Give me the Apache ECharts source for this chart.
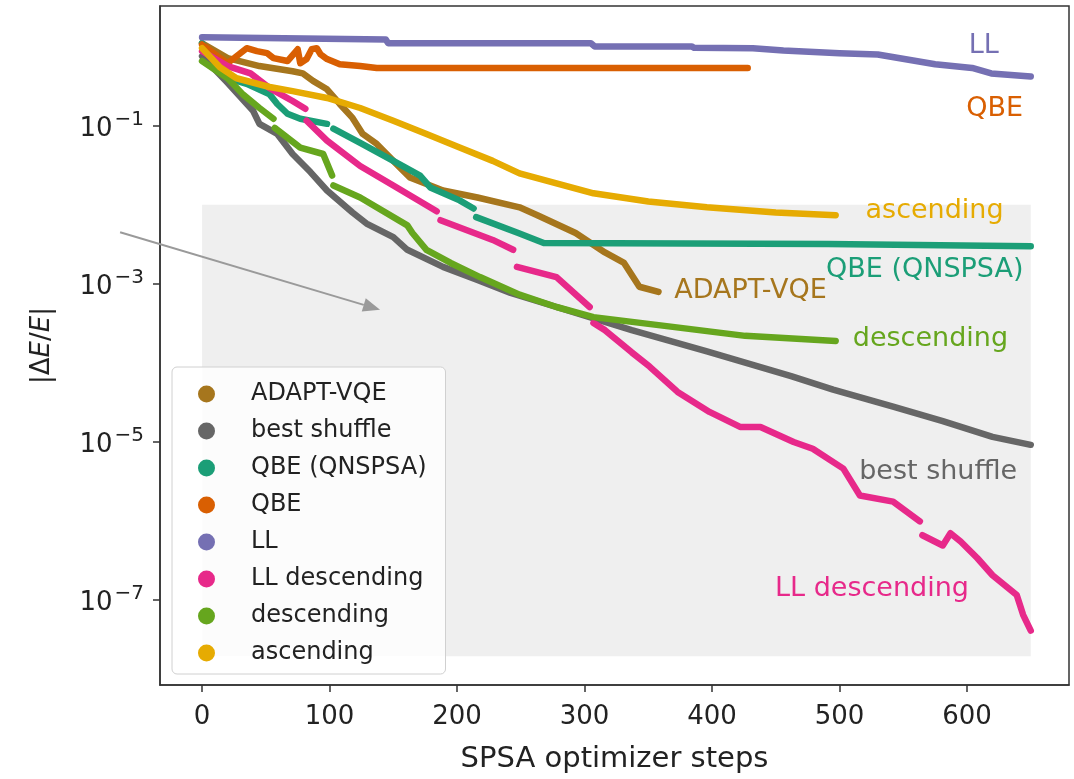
<!DOCTYPE html>
<html>
<head>
<meta charset="utf-8">
<script src="https://cdn.jsdelivr.net/npm/echarts@6/dist/echarts.min.js"></script>
<style>
html,body{margin:0;padding:0;background:#fff;}
#chart{width:1074px;height:779px;}
</style>
</head>
<body>
<div id="chart"></div>
<script>
// ---- data (|dE/E|; null = gap in the dotted trace) ----
const seriesNames = ['ADAPT-VQE','best shuffle','QBE (QNSPSA)','QBE','LL','LL descending','descending','ascending'];

const adaptSteps = [0,20,45,71,79,87,98,108,118,126,137,150,163,189,216,249,263,293,316,331,343,358];
const adaptVals  = [1.11,0.72,0.57,0.49,0.46,0.37,0.29,0.189,0.126,0.079,0.059,0.036,0.0222,0.0152,0.0124,0.0093,0.0074,0.0044,0.0025,0.00184,0.00092,0.00079];

const shuffleSteps = [0,20,40,45,59,71,85,98,118,129,150,161,189,216,242,278,337,396,462,495,542,581,620,650];
const shuffleVals  = [0.76,0.35,0.155,0.106,0.079,0.044,0.026,0.0152,0.0080,0.0058,0.0039,0.0027,0.00164,0.00112,0.00077,5.1e-4,2.6e-4,1.4e-4,6.8e-5,4.6e-5,2.8e-5,1.84e-5,1.16e-5,9.2e-6];

const qnspsaSteps = [0,20,35,53,59,67,77,98,100,103,124,150,171,179,202,213,214,215,248,268,491,650];
const qnspsaVals  = [1.11,0.40,0.34,0.25,0.189,0.142,0.123,0.106,null,0.092,0.061,0.036,0.0235,0.0166,0.0114,0.0090,null,0.0070,0.0044,0.0033,0.0032,0.0030];

const qbeSteps = [0,12,20,27,35,43,51,56,67,75,77,82,86,90,93,98,108,124,137,428];
const qbeVals  = [1.07,0.76,0.62,0.76,0.96,0.88,0.83,0.72,0.66,0.93,0.62,0.70,0.93,0.96,0.80,0.70,0.60,0.57,0.54,0.54];

const llSteps = [0,144,146,305,308,384,386,432,456,500,530,560,575,604,619,650];
const llVals  = [1.32,1.24,1.11,1.11,1.01,1.01,0.97,0.96,0.90,0.83,0.80,0.66,0.60,0.54,0.46,0.42];

const llDescSteps = [0,20,38,53,71,81,81.5,82,98,124,150,184,185.5,187,228,244,245.5,247,278,304,305.5,307,316,337,351,373,398,422,438,464,479,503,516,542,563,564,565,581,587,595,608,620,639,644,650];
const llDescVals  = [0.88,0.57,0.46,0.30,0.206,0.164,null,0.116,0.065,0.031,0.0176,0.0083,null,0.0064,0.0036,0.0027,null,0.00164,0.00122,5.1e-4,null,3.2e-4,2.6e-4,1.36e-4,9.0e-5,4.3e-5,2.4e-5,1.55e-5,1.55e-5,1.0e-5,8.2e-6,4.6e-6,2.1e-6,1.76e-6,9.9e-7,null,6.6e-7,4.9e-7,7.0e-7,5.5e-7,3.4e-7,2.06e-7,1.16e-7,6.5e-8,4.1e-8];

const descSteps = [0,20,32,45,56,56.5,57,77,95,102,102.5,103,124,161,165,176,195,218,249,278,307,366,426,497];
const descVals  = [0.66,0.40,0.25,0.168,0.123,null,0.094,0.053,0.044,0.0235,null,0.0176,0.0124,0.0055,0.0044,0.0027,0.00184,0.00122,0.00073,5.1e-4,3.8e-4,2.9e-4,2.2e-4,1.9e-4];

const ascSteps = [0,14,27,53,71,98,124,150,176,202,228,249,307,350,396,450,497];
const ascVals  = [0.96,0.55,0.40,0.31,0.275,0.225,0.168,0.116,0.079,0.053,0.036,0.025,0.0140,0.011,0.0093,0.0080,0.0074];

const xTickLabels = [0,100,200,300,400,500,600];
const yTickExponents = [-7,-5,-3,-1];

// ---- styling ----
const colors = ['#a6761d','#666666','#1b9e77','#d95f02','#7570b3','#e7298a','#66a61e','#e6ab02'];
const FONT = 'DejaVu Sans';
const stepsList = [adaptSteps, shuffleSteps, qnspsaSteps, qbeSteps, llSteps, llDescSteps, descSteps, ascSteps];
const valsList  = [adaptVals, shuffleVals, qnspsaVals, qbeVals, llVals, llDescVals, descVals, ascVals];
// annotation anchors (left edge of text, vertical centre) in data units
const annot = [[370, 8.2e-4],[515, 4.2e-6],[489, 1.5e-3],[599, 0.164],[601, 1.01],[449, 1.37e-7],[510, 1.98e-4],[520, 8.3e-3]];

const lg = v => (v == null ? '-' : Math.log10(v));

const series = seriesNames.map((name, i) => ({
  name: name,
  type: 'line',
  data: stepsList[i].map((s, k) => [s, lg(valsList[i][k])]),
  showSymbol: false,
  symbol: 'none',
  connectNulls: false,
  z: 3 + i,
  lineStyle: { width: 6.5, color: colors[i], cap: 'round', join: 'round' },
  itemStyle: { color: colors[i] },
  emphasis: { disabled: true },
  markPoint: {
    silent: true,
    symbol: 'circle',
    symbolSize: 1,
    itemStyle: { color: 'rgba(0,0,0,0)' },
    label: { show: true, position: 'right', distance: 0, formatter: name, fontSize: 27, fontFamily: FONT, color: colors[i] },
    data: [{ coord: [annot[i][0], Math.log10(annot[i][1])] }]
  }
}));

// shaded region
series.push({
  name: 'region',
  type: 'line',
  data: [],
  z: 1,
  silent: true,
  markArea: {
    silent: true,
    itemStyle: { color: '#efefef' },
    data: [[{ coord: [0, Math.log10(1e-2)] }, { coord: [650, Math.log10(1.95e-8)] }]]
  }
});

const chart = echarts.init(document.getElementById('chart'), null, { renderer: 'canvas' });
chart.setOption({
  animation: false,
  backgroundColor: '#fff',
  grid: { left: 160, right: 5, top: 6, bottom: 90, show: true, borderColor: '#333', borderWidth: 1.5, backgroundColor: 'transparent' },
  xAxis: {
    type: 'value', min: -33, max: 680,
    name: 'SPSA optimizer steps', nameLocation: 'middle', nameGap: 60,
    nameTextStyle: { fontSize: 29, fontFamily: FONT, color: '#222' },
    axisLine: { show: true, onZero: false, lineStyle: { color: '#333', width: 1.5 } },
    axisTick: { show: true, length: 7, customValues: xTickLabels, lineStyle: { color: '#333', width: 1.5 } },
    axisLabel: { customValues: xTickLabels, fontSize: 26, fontFamily: FONT, color: '#222', margin: 19 },
    splitLine: { show: false }
  },
  yAxis: {
    type: 'value', min: -8.075, max: 0.516,
    name: '|Δ{i|E}/{i|E}|', nameLocation: 'middle', nameGap: 105, nameRotate: 90,
    nameTextStyle: { fontSize: 26, fontFamily: FONT, color: '#222', rich: { i: { fontSize: 26, fontFamily: FONT, fontStyle: 'italic', color: '#222' } } },
    axisLine: { show: true, onZero: false, lineStyle: { color: '#333', width: 1.5 } },
    axisTick: { show: true, length: 7, customValues: yTickExponents, lineStyle: { color: '#333', width: 1.5 } },
    axisLabel: {
      customValues: yTickExponents, margin: 16,
      formatter: v => '{b|10}{s|\u2212' + Math.abs(Math.round(v)) + '}',
      rich: {
        b: { fontSize: 26, fontFamily: FONT, color: '#222', lineHeight: 32, verticalAlign: 'bottom' },
        s: { fontSize: 20, fontFamily: FONT, color: '#222', verticalAlign: 'top', lineHeight: 20, padding: [0, 0, 0, 2] }
      }
    },
    splitLine: { show: false }
  },
  legend: {
    data: seriesNames,
    orient: 'vertical', left: 172, top: 367,
    icon: 'circle', itemWidth: 17, itemHeight: 17, itemGap: 13,
    padding: [15, 19, 9, 26],
    backgroundColor: 'rgba(255,255,255,0.82)',
    borderColor: '#d0d0d0', borderWidth: 1, borderRadius: 5,
    selectedMode: false,
    textStyle: { fontSize: 24, fontFamily: FONT, color: '#222', lineHeight: 20, padding: [0, 0, 0, 31] }
  },
  series: series
});

// annotation arrow, placed in data coordinates
const p0 = chart.convertToPixel({ gridIndex: 0 }, [-64.3, -2.346]);
const p1 = chart.convertToPixel({ gridIndex: 0 }, [139.6, -3.327]);
const dx = p1[0] - p0[0], dy = p1[1] - p0[1];
const len = Math.sqrt(dx * dx + dy * dy), ux = dx / len, uy = dy / len;
const hl = 17, hw = 7;
const bx = p1[0] - ux * hl, by = p1[1] - uy * hl;
chart.setOption({
  graphic: [
    { type: 'line', z: 50, shape: { x1: p0[0], y1: p0[1], x2: bx, y2: by }, style: { stroke: '#9a9a9a', lineWidth: 2 } },
    { type: 'polygon', z: 50, shape: { points: [[p1[0], p1[1]], [bx - uy * hw, by + ux * hw], [bx + uy * hw, by - ux * hw]] }, style: { fill: '#9a9a9a' } }
  ]
});
</script>
</body>
</html>
